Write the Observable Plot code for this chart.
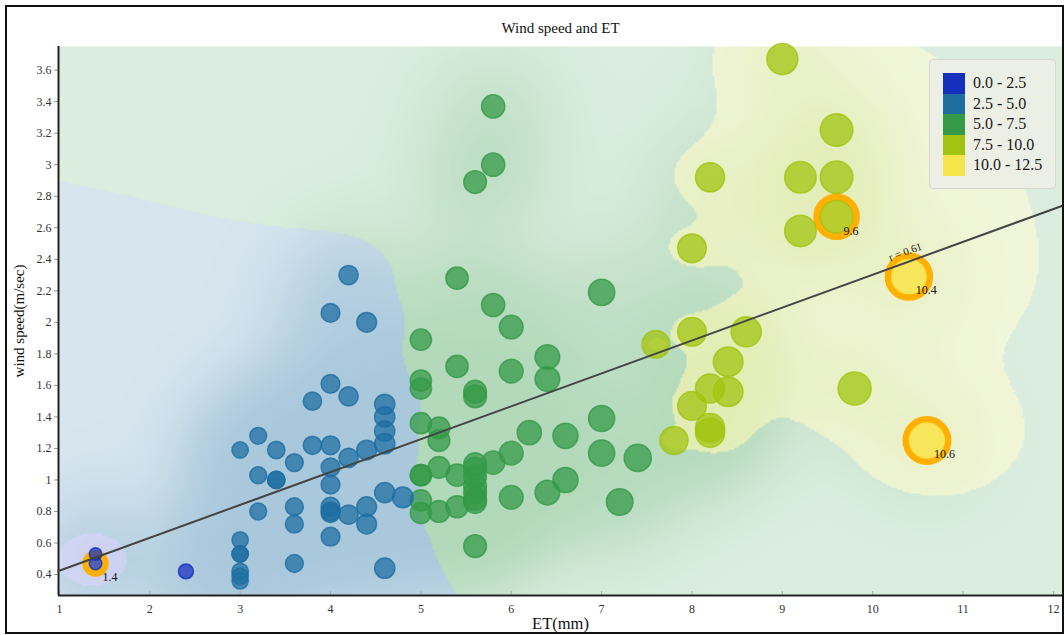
<!DOCTYPE html>
<html>
<head>
<meta charset="utf-8">
<script src="https://cdn.jsdelivr.net/npm/d3@7"></script>
<script src="https://cdn.jsdelivr.net/npm/@observablehq/plot@0.6"></script>
<style>
  html, body { margin: 0; padding: 0; background: #fff; }
  #wrap { position: relative; width: 1064px; height: 635px; overflow: hidden; font-family: "Liberation Serif", "Times New Roman", serif; }
  #wrap svg { display: block; position: absolute; left: 0; top: 0; }
  #border { position: absolute; left: 5px; top: 5px; width: 1059px; height: 629px; box-sizing: border-box; border: 2px solid #111; pointer-events: none; }
  #legend { position: absolute; left: 929px; top: 59px; width: 127px; height: 130px; box-sizing: border-box; background: rgba(236,238,230,0.9); border: 1px solid #d6d8cf; border-radius: 4px; padding: 13px 0 0 13px; }
  .row { height: 20.5px; display: flex; align-items: center; }
  .sw { width: 22px; height: 20.5px; }
  .lab { margin-left: 8px; font-size: 16px; color: #1a1a1a; }
</style>
</head>
<body>
<div id="wrap"></div>
<script>
// ---- data ----
const et = [
  1.4, 1.4, 2.4,
  3.0, 3.0, 3.0, 3.0, 3.0, 3.0, 3.0,
  3.2, 3.2, 3.2,
  3.4, 3.4, 3.4,
  3.6, 3.6, 3.6, 3.6,
  3.8, 3.8,
  4.0, 4.0, 4.0, 4.0, 4.0, 4.0, 4.0, 4.0, 4.0,
  4.2, 4.2, 4.2, 4.2,
  4.4, 4.4, 4.4, 4.4,
  4.6, 4.6, 4.6, 4.6, 4.6, 4.6,
  4.8,
  5.0, 5.0, 5.0, 5.0, 5.0, 5.0, 5.0, 5.0,
  5.2, 5.2, 5.2, 5.2,
  5.4, 5.4, 5.4, 5.4,
  5.6, 5.6, 5.6, 5.6, 5.6, 5.6, 5.6, 5.6, 5.6, 5.6, 5.6,
  5.8, 5.8, 5.8, 5.8,
  6.0, 6.0, 6.0, 6.0,
  6.2,
  6.4, 6.4, 6.4,
  6.6, 6.6,
  7.0, 7.0, 7.0,
  7.2, 7.4,
  7.6, 7.8,
  8.0, 8.0, 8.0,
  8.2, 8.2, 8.2, 8.2,
  8.4, 8.4, 8.6,
  9.0, 9.2, 9.2,
  9.6, 9.6, 9.6, 9.8,
  10.4, 10.6
];
const wind = [
  0.53, 0.47, 0.42,
  0.42, 0.39, 0.36, 0.53, 0.53, 0.62, 1.19,
  1.28, 1.03, 0.80,
  1.19, 1.00, 1.00,
  1.11, 0.83, 0.72, 0.47,
  1.50, 1.22,
  2.06, 1.61, 1.22, 1.08, 0.97, 0.83, 0.80, 0.79, 0.64,
  2.30, 1.53, 1.14, 0.78,
  2.00, 1.19, 0.83, 0.72,
  1.48, 1.40, 1.31, 1.23, 0.92, 0.44,
  0.89,
  1.89, 1.63, 1.58, 1.36, 1.03, 1.03, 0.87, 0.79,
  1.33, 1.25, 1.08, 0.80,
  2.28, 1.72, 1.03, 0.83,
  2.89, 1.56, 1.53, 1.10, 1.07, 1.02, 0.96, 0.92, 0.88, 0.86, 0.58,
  3.37, 3.00, 2.11, 1.11,
  1.97, 1.69, 1.17, 0.89,
  1.30,
  1.78, 1.64, 0.92,
  1.28, 1.00,
  2.19, 1.39, 1.17,
  0.86, 1.14,
  1.86, 1.25,
  2.47, 1.94, 1.47,
  2.92, 1.58, 1.33, 1.30,
  1.75, 1.56, 1.94,
  3.67, 2.92, 2.58,
  3.22, 2.92, 2.67, 1.58,
  2.29, 1.25
];
// highlighted (ringed and labelled) observations
const hlET   = [1.4, 9.6, 10.4, 10.6];
const hlWind = [0.47, 2.67, 2.29, 1.25];
// fitted regression line
const fitIntercept = 0.216;
const fitSlope = 0.2086;
const fitLabel = "r = 0.61";
const fitLabelET = [10.36];
// classes
const classBreaks = [2.5, 5.0, 7.5, 10.0];
const classLabels = ["0.0 - 2.5", "2.5 - 5.0", "5.0 - 7.5", "7.5 - 10.0", "10.0 - 12.5"];
const classColors = ["#1530bd", "#1e6ea2", "#349a48", "#a2c30f", "#f5e54a"];
const classShade = [0.7, 1.0, 1.0, 0.85, 0.4]; // background wash strength per class
// axes
const xDomain = [0.99, 12.1];
const yDomain = [0.267, 3.75];
const xTicks = [1, 2, 3, 4, 5, 6, 7, 8, 9, 10, 11, 12];
const yTicks = [0.4, 0.6, 0.8, 1, 1.2, 1.4, 1.6, 1.8, 2, 2.2, 2.4, 2.6, 2.8, 3, 3.2, 3.4, 3.6];
const titleText = "Wind speed and ET";
const xLabel = "ET(mm)";
const yLabel = "wind speed(m/sec)";

// ---- build ----
const W = 1064, H = 635, mL = 58, mR = 2, mT = 46, mB = 40;
const kx = (W - mL - mR) / (xDomain[1] - xDomain[0]);
const ky = (H - mT - mB) / (yDomain[1] - yDomain[0]);
const yStretch = 1.4; // interpolation favours neighbours of similar wind speed
const pts = et.map((e, i) => ({et: e, wind: wind[i]}));
const hl = hlET.map((e, i) => ({et: e, wind: hlWind[i]}));
const n = et.length;

function idw(x, y) {
  let num = 0, den = 0;
  for (let i = 0; i < n; ++i) {
    const dx = (x - et[i]) * kx, dy = (y - wind[i]) * ky * yStretch;
    const w = 1 / (dx * dx + dy * dy + 4);
    num += w * et[i]; den += w;
  }
  return num / den;
}
function classOf(v) { let c = 0; while (c < classBreaks.length && v >= classBreaks[c]) ++c; return c; }
function glow(x, y) {
  let p = 1;
  const s2 = 2 * 45 * 45;
  for (let i = 0; i < n; ++i) {
    const dx = (x - et[i]) * kx, dy = (y - wind[i]) * ky;
    p *= 1 - 0.4 * Math.exp(-(dx * dx + dy * dy) / s2);
  }
  return (0.18 + 0.2 * (1 - p)) * classShade[classOf(idw(x, y))];
}

const rOptions = {type: "linear", domain: [0, 12.5], range: [4.5, 19.8]};
const rScale = Plot.scale({r: rOptions});
const fitLine = xDomain.map(x => ({et: x, wind: fitIntercept + fitSlope * x}));
const fitLab = fitLabelET.map(x => ({et: x, wind: fitIntercept + fitSlope * x}));
const angle = -Math.atan(fitSlope * ky / kx) * 180 / Math.PI;

const chart = Plot.plot({
  width: W, height: H,
  marginLeft: mL, marginRight: mR, marginTop: mT, marginBottom: mB,
  style: {fontFamily: "Liberation Serif, Times New Roman, serif", background: "transparent", color: "#222"},
  x: {domain: xDomain},
  y: {domain: yDomain},
  color: {type: "threshold", domain: classBreaks, range: classColors},
  r: rOptions,
  opacity: {type: "identity"},
  marks: [
    Plot.raster({x1: xDomain[0], x2: xDomain[1], y1: yDomain[0], y2: yDomain[1], fill: idw, fillOpacity: glow, pixelSize: 2, imageRendering: "auto"}),
    Plot.axisY({ticks: yTicks, tickFormat: d3.format("~g"), tickSize: 4, tickPadding: 3, fontSize: 12, stroke: "#999", color: "#333", label: null}),
    Plot.axisX({ticks: xTicks, tickSize: 0, tickPadding: 9, fontSize: 12, color: "#333", label: null}),
    Plot.axisX({ticks: xTicks, tickSize: -4, tickFormat: () => "", stroke: "#aaa", label: null}),
    Plot.ruleX([xDomain[0]], {stroke: "#222", strokeWidth: 2}),
    Plot.ruleY([yDomain[0]], {stroke: "#222", strokeWidth: 2}),
    Plot.dot(hl, {x: "et", y: "wind", r: {value: d => rScale.apply(d.et) + 3.5, scale: null}, stroke: "#ffb000", strokeWidth: 7, fill: "#fbe78a"}),
    Plot.dot(pts, {x: "et", y: "wind", r: "et", fill: "et", stroke: "et", fillOpacity: 0.74, strokeWidth: 1.5, strokeOpacity: 0.8}),
    Plot.line(fitLine, {x: "et", y: "wind", stroke: "#444", strokeWidth: 2}),
    Plot.text(fitLab, {x: "et", y: "wind", text: () => fitLabel, rotate: angle, dy: -11, fontSize: 11, fill: "#222"}),
    Plot.text(hl, {x: "et", y: "wind", text: d => String(d.et), textAnchor: "start", dx: 7, dy: 14, fontSize: 12, fill: "#111"}),
    Plot.text([titleText], {frameAnchor: "top", lineAnchor: "middle", dy: -18, fontSize: 15, fill: "#111"}),
    Plot.text([xLabel], {frameAnchor: "bottom", lineAnchor: "middle", dy: 28, fontSize: 16.5, fill: "#111"}),
    Plot.text([yLabel], {frameAnchor: "left", textAnchor: "middle", dx: -39, rotate: -90, fontSize: 15, fill: "#111"})
  ]
});

const wrap = document.getElementById("wrap");
wrap.appendChild(chart);
const legend = document.createElement("div");
legend.id = "legend";
classLabels.forEach((lab, i) => {
  const row = document.createElement("div"); row.className = "row";
  const sw = document.createElement("div"); sw.className = "sw"; sw.style.background = classColors[i];
  const tx = document.createElement("div"); tx.className = "lab"; tx.textContent = lab;
  row.appendChild(sw); row.appendChild(tx); legend.appendChild(row);
});
wrap.appendChild(legend);
const border = document.createElement("div"); border.id = "border";
wrap.appendChild(border);
</script>
</body>
</html>
